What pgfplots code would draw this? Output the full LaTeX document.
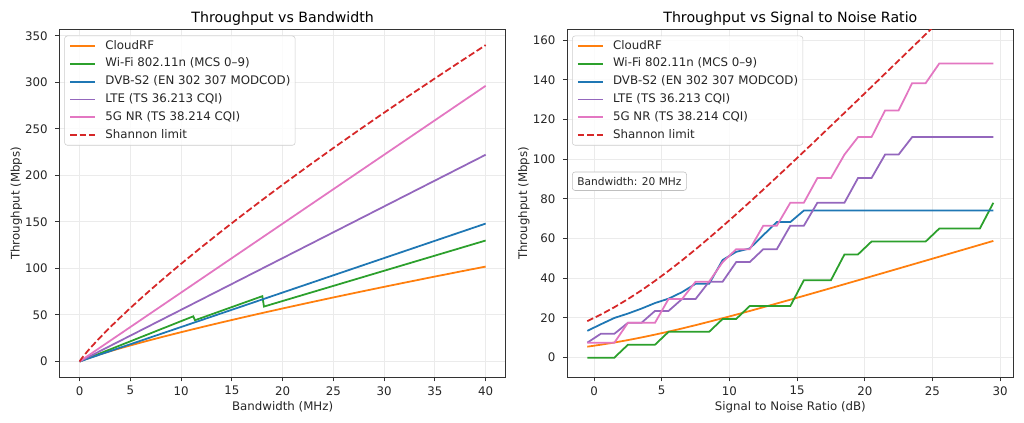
\documentclass[border=0pt]{standalone}
\usepackage{fontspec}
\setmainfont{DejaVu Sans}
\usepackage{pgfplots}
\pgfplotsset{compat=1.18}

\definecolor{cOr}{RGB}{255,127,14}
\definecolor{cGr}{RGB}{44,160,44}
\definecolor{cBl}{RGB}{31,119,180}
\definecolor{cPu}{RGB}{148,103,189}
\definecolor{cPi}{RGB}{227,119,194}
\definecolor{cRe}{RGB}{214,39,40}
\definecolor{cFrame}{RGB}{51,51,51}
\definecolor{cText}{RGB}{38,38,38}

\pgfplotsset{
  myax/.style={
    scale only axis, width=321.6pt, height=250.56pt,
    anchor=south west,
    axis line style={draw=cFrame, line width=0.68pt},
    tick pos=left, tick align=outside, major tick length=3pt,
    every tick/.style={draw=cFrame, line width=0.68pt},
    grid=major, grid style={draw=black!8, line width=0.68pt},
    tick label style={font=\fontsize{8.5}{10}\selectfont, text=cText},
    yticklabel style={xshift=-1.8pt},
    /pgf/number format/assume math mode=true,
    label style={font=\fontsize{8.5}{10}\selectfont, text=cText},
    title style={font=\fontsize{10.2}{12}\selectfont, text=black, at={(axis description cs:0.5,0.997)}, anchor=base},
    xlabel style={at={(axis description cs:0.5,-0.095)}, anchor=base},
    ylabel style={at={(axis description cs:-0.089,0.5)}, anchor=base},
    legend cell align=left,
    legend image code/.code={\draw[#1] (0pt,0pt) -- (18.2pt,0pt);},
    legend style={at={(axis description cs:0,1)}, anchor=north west,
      xshift=3.6pt, yshift=-4.6pt, draw=black!20, rounded corners=2pt,
      fill=white, fill opacity=0.8, text opacity=1,
      font=\fontsize{8.5}{10}\selectfont, text=cText,
      nodes={inner sep=0pt, text height=6.3pt, text depth=2pt},
      column sep=6.5pt, row sep=4.5pt, inner xsep=3.4pt, inner ysep=3.2pt},
    every axis plot/.append style={line width=1.275pt},
  },
  shannon/.style={cRe, dash pattern=on 4.7pt off 2.04pt},
}

\begin{document}
\begin{tikzpicture}
\useasboundingbox (0,0) rectangle (737.28pt,304.56pt);

% ---------------- Left: Throughput vs Bandwidth ----------------
\begin{axis}[myax, at={(42.7pt,32.9pt)},
  xmin=-2, xmax=42, ymin=-17, ymax=357,
  xtick={0,5,...,40}, ytick={0,50,...,350},
  title={Throughput vs Bandwidth},
  xlabel={Bandwidth (MHz)}, ylabel={Throughput (Mbps)}]
\addplot[cOr] coordinates {(0,0) (0.1,0.51) (0.2,0.97) (0.5,2.22) (1,4.15) (2,7.69) (3,11.01) (4,14.18) (5,17.24) (6,20.22) (7,23.12) (8,25.97) (9,28.75) (10,31.49) (12,36.84) (14,42.05) (16,47.13) (18,52.11) (20,56.99) (22.5,62.96) (25,68.83) (27.5,74.57) (30,80.23) (32.5,85.79) (35,91.27) (37.5,96.67) (40,102.0)};
\addlegendentry{CloudRF}
\addplot[cGr] coordinates {(0,0) (11.2,48.55) (11.36,44.30) (18.0,70.2) (18.16,59.02) (40,130.0)};
\addlegendentry{Wi-Fi 802.11n (MCS 0–9)}
\addplot[cBl] coordinates {(0,0) (40,148.2)};
\addlegendentry{DVB-S2 (EN 302 307 MODCOD)}
\addplot[cPu] coordinates {(0,0) (40,222.18)};
\addlegendentry{LTE (TS 36.213 CQI)}
\addplot[cPi] coordinates {(0,0) (40,296.26)};
\addlegendentry{5G NR (TS 38.214 CQI)}
\addplot[shannon] coordinates {(0,0) (0.1,1.71) (0.2,3.23) (0.5,7.41) (1,13.82) (2,25.64) (3,36.70) (4,47.27) (5,57.48) (6,67.40) (7,77.08) (8,86.55) (9,95.84) (10,104.97) (12,122.81) (14,140.17) (16,157.10) (18,173.70) (20,189.96) (22.5,209.88) (25,229.42) (27.5,248.57) (30,267.42) (32.5,285.97) (35,304.22) (37.5,322.24) (40,340.0)};
\addlegendentry{Shannon limit}
\end{axis}

% ---------------- Right: Throughput vs SNR ----------------
\begin{axis}[myax, at={(408.24pt,32.9pt)},
  xmin=-2, xmax=31, ymin=-9.9, ymax=165.4,
  xtick={0,5,...,30}, ytick={0,20,...,160},
  title={Throughput vs Signal to Noise Ratio},
  xlabel={Signal to Noise Ratio (dB)}, ylabel={Throughput (Mbps)}]
\addplot[cOr] coordinates {(-0.5,5.52) (0.5,6.51) (1.5,7.62) (2.5,8.84) (3.5,10.17) (4.5,11.60) (5.5,13.11) (6.5,14.70) (7.5,16.37) (8.5,18.09) (9.5,19.86) (10.5,21.67) (11.5,23.51) (12.5,25.39) (13.5,27.29) (14.5,29.20) (15.5,31.13) (16.5,33.08) (17.5,35.03) (18.5,37.00) (19.5,38.96) (20.5,40.94) (21.5,42.92) (22.5,44.90) (23.5,46.88) (24.5,48.86) (25.5,50.85) (26.5,52.84) (27.5,54.83) (28.5,56.82) (29.5,58.81)};
\addlegendentry{CloudRF}
\addplot[cGr] coordinates {(-0.5,0) (0.5,0) (1.5,0) (2.5,6.5) (3.5,6.5) (4.5,6.5) (5.5,13) (6.5,13) (7.5,13) (8.5,13) (9.5,19.5) (10.5,19.5) (11.5,26) (12.5,26) (13.5,26) (14.5,26) (15.5,39) (16.5,39) (17.5,39) (18.5,52) (19.5,52) (20.5,58.5) (21.5,58.5) (22.5,58.5) (23.5,58.5) (24.5,58.5) (25.5,65) (26.5,65) (27.5,65) (28.5,65) (29.5,78)};
\addlegendentry{Wi-Fi 802.11n (MCS 0–9)}
\addplot[cBl] coordinates {(-0.5,13.5) (0.5,16.8) (1.5,20.0) (2.5,22.2) (3.5,24.7) (4.5,27.5) (5.5,29.7) (6.5,33.0) (7.5,37.2) (8.5,37.2) (9.5,49.2) (10.5,53.3) (11.5,55.0) (12.5,61.7) (13.5,68.3) (14.5,68.3) (15.5,74.1) (16.5,74.1) (17.5,74.1) (18.5,74.1) (19.5,74.1) (20.5,74.1) (21.5,74.1) (22.5,74.1) (23.5,74.1) (24.5,74.1) (25.5,74.1) (26.5,74.1) (27.5,74.1) (28.5,74.1) (29.5,74.1)};
\addlegendentry{DVB-S2 (EN 302 307 MODCOD)}
\addplot[cPu] coordinates {(-0.5,7.54) (0.5,12.03) (1.5,12.03) (2.5,17.54) (3.5,17.54) (4.5,23.52) (5.5,23.52) (6.5,29.53) (7.5,29.53) (8.5,38.28) (9.5,38.28) (10.5,48.13) (11.5,48.13) (12.5,54.61) (13.5,54.61) (14.5,66.45) (15.5,66.45) (16.5,78.05) (17.5,78.05) (18.5,78.05) (19.5,90.47) (20.5,90.47) (21.5,102.30) (22.5,102.30) (23.5,111.09) (24.5,111.09) (25.5,111.09) (26.5,111.09) (27.5,111.09) (28.5,111.09) (29.5,111.09)};
\addlegendentry{LTE (TS 36.213 CQI)}
\addplot[cPi] coordinates {(-0.5,7.54) (0.5,7.54) (1.5,7.54) (2.5,17.54) (3.5,17.54) (4.5,17.54) (5.5,29.53) (6.5,29.53) (7.5,38.28) (8.5,38.28) (9.5,48.13) (10.5,54.61) (11.5,54.61) (12.5,66.45) (13.5,66.45) (14.5,78.05) (15.5,78.05) (16.5,90.47) (17.5,90.47) (18.5,102.30) (19.5,111.09) (20.5,111.09) (21.5,124.53) (22.5,124.53) (23.5,138.28) (24.5,138.28) (25.5,148.13) (26.5,148.13) (27.5,148.13) (28.5,148.13) (29.5,148.13)};
\addlegendentry{5G NR (TS 38.214 CQI)}
\addplot[shannon] coordinates {(-0.5,18.39) (0.5,21.71) (1.5,25.41) (2.5,29.48) (3.5,33.91) (4.5,38.66) (5.5,43.71) (6.5,49.01) (7.5,54.55) (8.5,60.29) (9.5,66.19) (10.5,72.22) (11.5,78.38) (12.5,84.63) (13.5,90.95) (14.5,97.34) (15.5,103.78) (16.5,110.26) (17.5,116.78) (18.5,123.32) (19.5,129.88) (20.5,136.45) (21.5,143.05) (22.5,149.65) (23.5,156.26) (24.5,162.88) (25.5,169.50) (26.5,176.13) (27.5,182.76) (28.5,189.39) (29.5,196.03)};
\addlegendentry{Shannon limit}
\node[draw=black!25, rounded corners=2pt, fill=white, inner xsep=3.6pt, inner ysep=3.7pt,
  anchor=north west, font=\fontsize{7.65}{9}\selectfont, text=cText]
  at (axis description cs:0.0112,0.5908) {Bandwidth: 20 MHz};
\end{axis}
\end{tikzpicture}
\end{document}
